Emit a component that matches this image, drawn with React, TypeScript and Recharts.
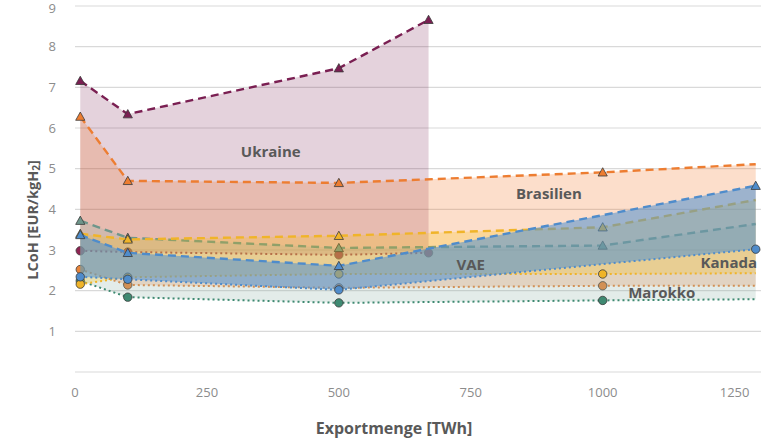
import React from "react";
import {
  ComposedChart,
  Area,
  Line,
  Scatter,
  XAxis,
  YAxis,
  CartesianGrid,
  ReferenceDot,
} from "recharts";

// Exportmenge [TWh]
const exportVolumes = [10, 100, 500, 670, 1000, 1290];

// LCoH [EUR/kgH2], oberer und unterer Rand je Land (null = kein Wert)
const ukraineHigh = [7.16, 6.34, 7.47, 8.66, null, null];
const ukraineLow = [2.98, 2.95, 2.88, 2.93, null, null];
const brasilienHigh = [6.28, 4.7, 4.65, null, 4.91, 5.11];
const brasilienLow = [2.52, 2.14, 2.07, null, 2.12, 2.12];
const marokkoHigh = [3.72, 3.3, 3.05, null, 3.11, 3.64];
const marokkoLow = [2.24, 1.84, 1.7, null, 1.76, 1.79];
const kanadaHigh = [3.4, 3.26, 3.35, null, 3.56, 4.23];
const kanadaLow = [2.16, 2.33, 2.41, null, 2.41, 2.43];
const vaeHigh = [3.37, 2.93, 2.61, null, null, 4.58];
const vaeLow = [2.34, 2.28, 2.02, null, null, 3.02];

const xTicks = [0, 250, 500, 750, 1000, 1250];
const yTicks = [0, 1, 2, 3, 4, 5, 6, 7, 8, 9];

const regionLabels = [
  { name: "Ukraine", x: 371, y: 5.43 },
  { name: "Brasilien", x: 898, y: 4.38 },
  { name: "VAE", x: 750, y: 2.63 },
  { name: "Kanada", x: 1239, y: 2.68 },
  { name: "Marokko", x: 1112, y: 1.94 },
];

const series = [
  { key: "ukraine", high: ukraineHigh, low: ukraineLow, line: "#7A1F52", lowLine: "#8E2452", fill: "#7A1F52", opacity: 0.2, lastMarker: true },
  { key: "brasilien", high: brasilienHigh, low: brasilienLow, line: "#ED7D31", lowLine: "#E8843A", fill: "#F27526", opacity: 0.24, lastMarker: false },
  { key: "marokko", high: marokkoHigh, low: marokkoLow, line: "#6E968B", lowLine: "#3F8A72", fill: "#8FB5A8", opacity: 0.25, lastMarker: false },
  { key: "kanada", high: kanadaHigh, low: kanadaLow, line: "#F0B429", lowLine: "#F0B429", fill: "#FFC000", opacity: 0.24, lastMarker: false },
  { key: "vae", high: vaeHigh, low: vaeLow, line: "#4F8CCB", lowLine: "#4F8CCB", fill: "#4F8FD0", opacity: 0.55, lastMarker: true },
];

const data = exportVolumes.map((x, i) => {
  const row: Record<string, any> = { x };
  series.forEach((s) => {
    row[s.key + "High"] = s.high[i];
    row[s.key + "Low"] = s.low[i];
    row[s.key + "Range"] =
      s.high[i] == null ? [null, null] : [s.low[i], s.high[i]];
  });
  return row;
});

const FONT = "'Open Sans', 'Noto Sans', sans-serif";
const lastX = exportVolumes[exportVolumes.length - 1];

function makeMarker(
  shape: "triangle" | "circle",
  dataKey: string,
  color: string,
  lastMarker: boolean
) {
  return (props: any) => {
    const { cx, cy, payload } = props;
    const v = payload ? payload[dataKey] : null;
    if (cx == null || cy == null || v == null) return <g />;
    if (!lastMarker && payload.x === lastX) return <g />;
    if (shape === "circle") {
      return <circle cx={cx} cy={cy} r={4.2} fill={color} stroke="#3a3a3a" strokeWidth={0.8} />;
    }
    const s = 4.6;
    return (
      <path
        d={`M${cx},${cy - s} L${cx + s},${cy + s * 0.8} L${cx - s},${cy + s * 0.8} Z`}
        fill={color}
        stroke="#3a3a3a"
        strokeWidth={0.8}
      />
    );
  };
}

const YLabel = () => (
  <text
    x={32}
    y={220}
    transform="rotate(-90 32 220)"
    textAnchor="middle"
    dominantBaseline="central"
    fontFamily={FONT}
    fontSize={14.5}
    fontWeight={700}
    fill="#595959"
  >
    LCoH [EUR/kgH
    <tspan fontSize={10} dy={4}>2</tspan>
    <tspan dy={-4}>]</tspan>
  </text>
);

export default function App() {
  let z = 100;
  return (
    <div style={{ position: "absolute", left: 0, top: 0, background: "#fff" }}>
      <ComposedChart
        width={780}
        height={440}
        data={data}
        margin={{ top: 6, right: 19, left: 0, bottom: 0 }}
      >
        <CartesianGrid vertical={false} stroke="#d9d9d9" strokeWidth={1.2} />
        <XAxis
          type="number"
          dataKey="x"
          domain={[0, 1300]}
          ticks={xTicks}
          height={68}
          axisLine={false}
          tickLine={false}
          tickSize={0}
          tickMargin={16}
          tick={{ fontSize: 13, fill: "#8c8c8c", fontFamily: FONT }}
          label={{
            value: "Exportmenge [TWh]",
            position: "insideBottom",
            offset: 6,
            dx: -24,
            style: { fontSize: 16, fontWeight: 700, fill: "#595959", fontFamily: FONT },
          }}
        />
        <YAxis
          type="number"
          domain={[0, 9]}
          ticks={yTicks}
          width={75}
          axisLine={false}
          tickLine={false}
          tickSize={0}
          tickMargin={19}
          tickFormatter={(v) => (v === 0 ? "" : String(v))}
          tick={{ fontSize: 13, fill: "#8c8c8c", fontFamily: FONT }}
          label={{ content: () => <YLabel /> }}
        />
        {series.map((s) => [
          <Area
            key={s.key + "-area"}
            type="linear"
            dataKey={s.key + "Range"}
            stroke="none"
            fill={s.fill}
            fillOpacity={s.opacity}
            connectNulls
            isAnimationActive={false}
            zIndex={z++}
          />,
          <Line
            key={s.key + "-low"}
            type="linear"
            dataKey={s.key + "Low"}
            stroke={s.lowLine}
            strokeWidth={2}
            strokeDasharray="2 3"
            connectNulls
            dot={false}
            activeDot={false}
            isAnimationActive={false}
            zIndex={z++}
          />,
          <Line
            key={s.key + "-high"}
            type="linear"
            dataKey={s.key + "High"}
            stroke={s.line}
            strokeWidth={2.4}
            strokeDasharray="8 5"
            connectNulls
            dot={false}
            activeDot={false}
            isAnimationActive={false}
            zIndex={z++}
          />,
          <Scatter
            key={s.key + "-lowdots"}
            dataKey={s.key + "Low"}
            shape={makeMarker("circle", s.key + "Low", s.lowLine, s.lastMarker)}
            isAnimationActive={false}
            zIndex={z++}
          />,
          <Scatter
            key={s.key + "-highdots"}
            dataKey={s.key + "High"}
            shape={makeMarker("triangle", s.key + "High", s.line, s.lastMarker)}
            isAnimationActive={false}
            zIndex={z++}
          />,
        ])}
        {regionLabels.map((l) => (
          <ReferenceDot
            key={l.name}
            x={l.x}
            y={l.y}
            r={0}
            fill="none"
            stroke="none"
            label={{
              value: l.name,
              position: "center",
              style: { fontSize: 15, fontWeight: 700, fill: "#595959", fontFamily: FONT },
            }}
          />
        ))}
      </ComposedChart>
    </div>
  );
}
